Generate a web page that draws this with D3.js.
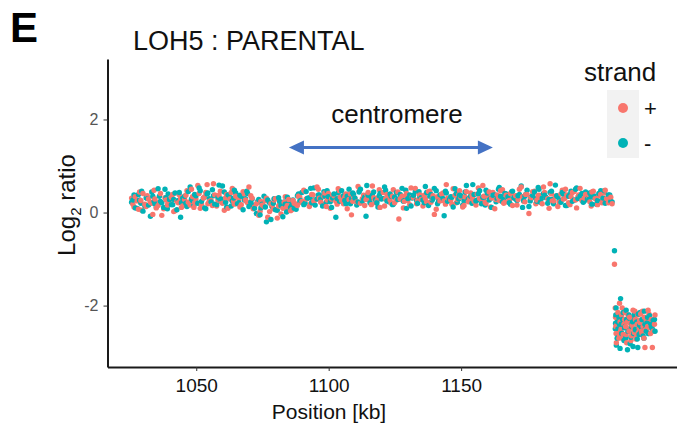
<!DOCTYPE html>
<html>
<head>
<meta charset="utf-8">
<script src="https://cdn.jsdelivr.net/npm/d3@7"></script>
<style>
  body { margin: 0; background: #fff; }
  text { font-family: "Liberation Sans", Arial, sans-serif; }
</style>
</head>
<body>
<script>
// probe positions (kb), main band, first probe set
var probePos = [
  1025.6, 1026.5, 1027.7, 1028.6, 1029.4, 1030.6, 1031.5, 1032.7, 1033.6, 1034.4,
  1035.6, 1036.5, 1037.7, 1038.6, 1039.4, 1040.6, 1041.5, 1042.7, 1043.6, 1044.4,
  1045.6, 1046.5, 1047.7, 1048.6, 1049.4, 1050.6, 1051.5, 1052.7, 1053.6, 1054.4,
  1055.6, 1056.5, 1057.7, 1058.6, 1059.4, 1060.6, 1061.5, 1062.7, 1063.6, 1064.4,
  1065.6, 1066.5, 1067.7, 1068.6, 1069.4, 1070.6, 1071.5, 1072.7, 1073.6, 1074.4,
  1075.6, 1076.5, 1077.7, 1078.6, 1079.4, 1080.6, 1081.5, 1082.7, 1083.6, 1084.4,
  1085.6, 1086.5, 1087.7, 1088.6, 1089.4, 1090.6, 1091.5, 1092.7, 1093.6, 1094.4,
  1095.6, 1096.5, 1097.7, 1098.6, 1099.4, 1100.6, 1101.5, 1102.7, 1103.6, 1104.4,
  1105.6, 1106.5, 1107.7, 1108.6, 1109.4, 1110.6, 1111.5, 1112.7, 1113.6, 1114.4,
  1115.6, 1116.5, 1117.7, 1118.6, 1119.4, 1120.6, 1121.5, 1122.7, 1123.6, 1124.4,
  1125.6, 1126.5, 1127.7, 1128.6, 1129.4, 1130.6, 1131.5, 1132.7, 1133.6, 1134.4,
  1135.6, 1136.5, 1137.7, 1138.6, 1139.4, 1140.6, 1141.5, 1142.7, 1143.6, 1144.4,
  1145.6, 1146.5, 1147.7, 1148.6, 1149.4, 1150.6, 1151.5, 1152.7, 1153.6, 1154.4,
  1155.6, 1156.5, 1157.7, 1158.6, 1159.4, 1160.6, 1161.5, 1162.7, 1163.6, 1164.4,
  1165.6, 1166.5, 1167.7, 1168.6, 1169.4, 1170.6, 1171.5, 1172.7, 1173.6, 1174.4,
  1175.6, 1176.5, 1177.7, 1178.6, 1179.4, 1180.6, 1181.5, 1182.7, 1183.6, 1184.4,
  1185.6, 1186.5, 1187.7, 1188.6, 1189.4, 1190.6, 1191.5, 1192.7, 1193.6, 1194.4,
  1195.6, 1196.5, 1197.7, 1198.6, 1199.4, 1200.6, 1201.5, 1202.7, 1203.6, 1204.4,
  1205.6, 1206.5
];
var plusLog2 = [
  0.31, 0.12, 0.25, 0.44, 0.05, 0.18, 0.36, 0.22, -0.04, 0.29,
  0.15, 0.41, 0.08, 0.27, 0.19, 0.33, 0.02, 0.24, 0.38, 0.11,
  0.28, 0.47, 0.16, 0.34, 0.21, 0.58, 0.09, 0.31, 0.43, 0.19,
  0.26, 0.62, 0.14, 0.37, 0.23, 0.05, 0.39, 0.29, 0.52, 0.18,
  0.33, 0.12, 0.45, 0.27, 0.21, 0.36,
  0.08, 0.19, -0.06, 0.24, 0.13, 0.31, 0.02, 0.17, 0.27, -0.12,
  0.21, 0.09, 0.34, 0.15, 0.04, 0.26, 0.18,
  0.35, 0.22, 0.48, 0.29, 0.13, 0.39, 0.25, 0.55, 0.31, 0.18,
  0.42, 0.27, 0.09, 0.36, 0.24, 0.51, 0.33, 0.19, 0.4, 0.28,
  -0.05, 0.34, 0.23, 0.46, 0.3, 0.15, 0.38, 0.26, 0.57, 0.21,
  0.32, 0.11, 0.43, 0.29, 0.36, 0.2, 0.49, 0.27, -0.14, 0.35,
  0.24, 0.41, 0.17, 0.33, 0.52, 0.26, 0.38, 0.14, 0.3, 0.45,
  0.22, 0.36, 0.07, 0.29, 0.4, 0.25, 0.6, 0.31, 0.18, 0.37,
  0.28, 0.47, 0.12, 0.34, 0.23, 0.42, 0.3, 0.16, 0.53, 0.27,
  0.35, 0.2, 0.44, 0.31, 0.08, 0.38, 0.26, 0.49, 0.22, 0.33,
  0.41, 0.15, 0.36, 0.28, 0.55, 0.24, 0.39, -0.02, 0.32, 0.46,
  0.27, 0.37, 0.19, 0.43, 0.3, 0.62, 0.25, 0.35, 0.13, 0.4,
  0.29, 0.5, 0.21, 0.34, 0.45, 0.1, 0.38, 0.26, 0.31,
  0.36, 0.23, 0.44, 0.3, 0.17, 0.39, 0.27, 0.48, 0.21, 0.33
];
var minusLog2 = [
  0.22, 0.38, 0.09, 0.27, 0.46, 0.14, 0.3, -0.08, 0.35, 0.19,
  0.51, 0.24, 0.11, 0.32, 0.4, 0.17, 0.28, 0.06, 0.43, 0.21,
  0.35, 0.13, 0.55, 0.26, 0.39, 0.2, 0.47, 0.31, 0.08, 0.42,
  0.23, 0.36, 0.17, 0.59, 0.29, 0.44, 0.12, 0.33, 0.25, 0.48,
  0.19, 0.37, 0.06, 0.3, 0.41, 0.22,
  0.16, -0.02, 0.28, 0.1, 0.35, -0.2, 0.21, 0.13, 0.3, 0.05,
  0.24, -0.09, 0.18, 0.33, 0.11, 0.27, 0.07,
  0.4, 0.26, 0.17, 0.45, 0.32, 0.21, 0.53, 0.29, 0.38, 0.14,
  0.35, 0.47, 0.23, 0.31, -0.1, 0.42, 0.27, 0.36, 0.19, 0.5,
  0.3, 0.39, 0.16, 0.44, 0.25, 0.33, 0.58, 0.21, 0.37, 0.28,
  0.12, 0.41, 0.3, 0.48, 0.23, 0.35, 0.18, 0.43, 0.29, 0.52,
  0.26, 0.09, 0.38, 0.31, 0.45, 0.2, 0.34, 0.27, 0.56, 0.15,
  0.39, 0.3, 0.47, 0.24, 0.36, -0.07, 0.42, 0.28, 0.33, 0.51,
  0.22, 0.37, 0.16, 0.44, 0.29, 0.35, 0.6, 0.25, 0.4, 0.19,
  0.32, 0.48, 0.27, 0.11, 0.38, 0.3, 0.54, 0.23, 0.41, 0.34,
  0.18, 0.46, 0.29, 0.36, 0.57, 0.26, 0.39, 0.13, 0.33, 0.44,
  0.24, 0.5, 0.31, 0.37, 0.2, 0.43, 0.28, 0.59, 0.34, 0.22,
  0.4, 0.15, 0.35, 0.46, 0.27, 0.53, 0.32, 0.41, 0.25,
  0.29, 0.42, 0.18, 0.35, 0.26, 0.47, 0.31, 0.2, 0.38, 0.24
];

// second probe set, offset tiling
var probePos2 = [
  1026.1, 1027.0, 1028.2, 1029.1, 1029.9, 1031.1, 1032.0, 1033.2, 1034.1, 1034.9,
  1036.1, 1037.0, 1038.2, 1039.1, 1039.9, 1041.1, 1042.0, 1043.2, 1044.1, 1044.9,
  1046.1, 1047.0, 1048.2, 1049.1, 1049.9, 1051.1, 1052.0, 1053.2, 1054.1, 1054.9,
  1056.1, 1057.0, 1058.2, 1059.1, 1059.9, 1061.1, 1062.0, 1063.2, 1064.1, 1064.9,
  1066.1, 1067.0, 1068.2, 1069.1, 1069.9, 1071.1, 1072.0, 1073.2, 1074.1, 1074.9,
  1076.1, 1077.0, 1078.2, 1079.1, 1079.9, 1081.1, 1082.0, 1083.2, 1084.1, 1084.9,
  1086.1, 1087.0, 1088.2, 1089.1, 1089.9, 1091.1, 1092.0, 1093.2, 1094.1, 1094.9,
  1096.1, 1097.0, 1098.2, 1099.1, 1099.9, 1101.1, 1102.0, 1103.2, 1104.1, 1104.9,
  1106.1, 1107.0, 1108.2, 1109.1, 1109.9, 1111.1, 1112.0, 1113.2, 1114.1, 1114.9,
  1116.1, 1117.0, 1118.2, 1119.1, 1119.9, 1121.1, 1122.0, 1123.2, 1124.1, 1124.9,
  1126.1, 1127.0, 1128.2, 1129.1, 1129.9, 1131.1, 1132.0, 1133.2, 1134.1, 1134.9,
  1136.1, 1137.0, 1138.2, 1139.1, 1139.9, 1141.1, 1142.0, 1143.2, 1144.1, 1144.9,
  1146.1, 1147.0, 1148.2, 1149.1, 1149.9, 1151.1, 1152.0, 1153.2, 1154.1, 1154.9,
  1156.1, 1157.0, 1158.2, 1159.1, 1159.9, 1161.1, 1162.0, 1163.2, 1164.1, 1164.9,
  1166.1, 1167.0, 1168.2, 1169.1, 1169.9, 1171.1, 1172.0, 1173.2, 1174.1, 1174.9,
  1176.1, 1177.0, 1178.2, 1179.1, 1179.9, 1181.1, 1182.0, 1183.2, 1184.1, 1184.9,
  1186.1, 1187.0, 1188.2, 1189.1, 1189.9, 1191.1, 1192.0, 1193.2, 1194.1, 1194.9,
  1196.1, 1197.0, 1198.2, 1199.1, 1199.9, 1201.1, 1202.0, 1203.2, 1204.1, 1204.9,
  1206.1, 1207.0
];
var plusLog2b = [
  0.18, 0.34, 0.07, 0.26, 0.41, 0.13, 0.29, 0.2, 0.48, 0.1,
  0.23, -0.06, 0.32, 0.16, 0.27, 0.39, 0.04, 0.21, 0.3, 0.14,
  0.37, 0.22, 0.5, 0.11, 0.29, 0.41, 0.18, 0.34, 0.6, 0.24,
  0.15, 0.38, 0.27, 0.46, 0.2, 0.32, 0.09, 0.43, 0.25, 0.35,
  0.28, 0.17, 0.4, 0.23, 0.55, 0.31, 0.12, 0.22, 0.03, 0.16,
  0.25, -0.1, 0.19, 0.08, 0.3, 0.14, -0.03, 0.22, 0.11, 0.28,
  0.06, 0.2, 0.15, 0.33, 0.24, 0.45, 0.3, 0.19, 0.38, 0.27,
  0.5, 0.22, 0.35, 0.13, 0.41, 0.29, 0.36, 0.18, 0.47, 0.26,
  0.33, 0.08, 0.4, 0.24, 0.31, 0.56, 0.2, 0.37, 0.28, 0.43,
  0.17, 0.32, 0.25, 0.49, 0.3, 0.14, 0.39, 0.27, 0.35, 0.21,
  0.44, 0.29, 0.1, 0.36, 0.26, 0.53, 0.32, 0.19, 0.4, 0.28,
  0.37, 0.23, 0.46, 0.3, -0.04, 0.34, 0.25, 0.42, 0.18, 0.31,
  0.27, 0.51, 0.21, 0.38, 0.33, 0.15, 0.45, 0.29, 0.36, 0.24,
  0.4, 0.3, 0.58, 0.22, 0.35, 0.12, 0.43, 0.28, 0.33, 0.47,
  0.2, 0.37, 0.26, 0.41, 0.31, 0.16, 0.5, 0.34, 0.23, 0.39,
  0.29, 0.45, 0.19, 0.36, 0.27, 0.55, 0.32, 0.09, 0.4, 0.25,
  0.35, 0.22, 0.48, 0.3, 0.38, 0.17, 0.43, 0.27, 0.34, 0.52,
  0.24, 0.39, 0.31, 0.14, 0.46, 0.28, 0.36, 0.21, 0.42, 0.3,
  0.33, 0.19
];
var minusLog2b = [
  0.27, 0.1, 0.39, 0.2, 0.03, 0.32, 0.16, 0.44, 0.24, 0.12,
  0.35, 0.21, 0.5, 0.08, 0.28, 0.17, 0.42, 0.26, -0.1, 0.31,
  0.2, 0.45, 0.29, 0.15, 0.36, 0.53, 0.24, 0.1, 0.4, 0.3,
  0.49, 0.18, 0.33, 0.26, 0.57, 0.22, 0.38, 0.14, 0.31, 0.42,
  0.21, 0.35, 0.27, 0.46, 0.13, 0.29, 0.09, 0.24, -0.05, 0.18,
  0.12, 0.27, -0.15, 0.2, 0.06, 0.32, 0.15, 0.23, 0.01, 0.26,
  0.18, 0.09, 0.36, 0.25, 0.43, 0.2, 0.31, 0.52, 0.27, 0.16,
  0.38, 0.29, 0.45, 0.22, 0.34, 0.11, 0.4, 0.3, 0.24, 0.47,
  0.26, 0.35, 0.19, 0.42, 0.31, 0.23, 0.5, 0.28, -0.08, 0.37,
  0.32, 0.44, 0.21, 0.36, 0.29, 0.55, 0.25, 0.4, 0.17, 0.33,
  0.28, 0.39, 0.24, 0.48, 0.3, 0.14, 0.37, 0.26, 0.45, 0.32,
  0.21, 0.43, 0.35, 0.27, 0.52, 0.19, 0.38, 0.3, 0.46, 0.24,
  0.34, 0.12, 0.41, 0.29, 0.36, 0.25, 0.58, 0.31, 0.2, 0.39,
  0.27, 0.47, 0.33, 0.16, 0.42, 0.3, 0.37, 0.23, 0.5, 0.35,
  0.29, 0.4, 0.21, 0.45, 0.32, 0.26, 0.39, 0.11, 0.35, 0.48,
  0.25, 0.37, 0.3, 0.54, 0.22, 0.41, 0.33, 0.28, 0.46, 0.19,
  0.36, 0.27, 0.43, 0.31, 0.15, 0.39, 0.24, 0.5, 0.3, 0.35,
  0.22, 0.44, 0.28, 0.37, 0.33, 0.18, 0.41, 0.26, 0.47, 0.29,
  0.38, 0.23
];

// deleted region at the right end
var delPos = [
  1207.9, 1208.2, 1208.4, 1208.6, 1209.0, 1209.4, 1209.8, 1210.2, 1210.6, 1211.0,
  1211.5, 1211.9, 1212.3, 1212.8, 1213.2, 1213.6, 1214.1, 1214.5, 1214.9, 1215.4,
  1215.8, 1216.3, 1216.7, 1217.2, 1217.6, 1218.1, 1218.5, 1219.0, 1219.4, 1219.9,
  1220.4, 1220.9, 1221.5, 1222.2, 1223.0
];
var delPlus = [
  -1.11, -2.05, -2.45, -2.8, -2.3, -2.6, -1.95, -2.55, -2.2, -2.7,
  -2.4, -2.15, -2.62, -2.35, -2.5, -2.25, -2.75, -2.42, -2.1, -2.58,
  -2.3, -2.66, -2.2, -2.48, -2.37, -2.55, -2.12, -2.7, -2.9, -2.33,
  -2.45, -2.18, -2.6, -2.9, -2.4
];
var delMinus = [
  -0.82, -2.5, -2.2, -2.85, -2.35, -2.65, -2.4, -1.85, -2.6, -2.3,
  -2.75, -2.45, -2.1, -2.95, -2.55, -2.28, -2.68, -2.4, -2.88, -2.2,
  -2.52, -2.35, -2.9, -2.62, -2.15, -2.47, -2.3, -2.7, -2.4, -2.55,
  -2.25, -2.6, -2.38, -2.5, -2.3
];
var delPos2 = [
  1208.3, 1208.5, 1208.9, 1209.2, 1209.6, 1210.0, 1210.4, 1210.8, 1211.2, 1211.7,
  1212.1, 1212.5, 1213.0, 1213.4, 1213.8, 1214.3, 1214.7, 1215.1, 1215.6, 1216.0,
  1216.5, 1216.9, 1217.4, 1217.8, 1218.3, 1218.7, 1219.2, 1219.6, 1220.1, 1220.6,
  1221.2, 1221.8, 1222.5, 1223.2
];
var delPlus2 = [
  -2.25, -2.6, -2.4, -2.15, -2.7, -2.35, -2.5, -2.05, -2.62, -2.3,
  -2.45, -2.8, -2.2, -2.55, -2.38, -2.65, -2.28, -2.5, -2.12, -2.72,
  -2.4, -2.58, -2.32, -2.18, -2.6, -2.45, -2.25, -2.52, -2.35, -2.1,
  -2.48, -2.3, -2.55, -2.2
];
var delMinus2 = [
  -2.38, -2.05, -2.7, -2.5, -2.25, -2.92, -2.4, -2.6, -2.15, -2.48,
  -2.7, -2.3, -2.55, -2.2, -2.82, -2.45, -2.35, -2.6, -2.28, -2.5,
  -2.72, -2.18, -2.42, -2.58, -2.3, -2.65, -2.12, -2.5, -2.38, -2.6,
  -2.22, -2.45, -2.32, -2.55
];

// centromere span (kb) and tick labels
var centromere = [1085, 1162];
var xTicks = [1050, 1100, 1150];
var yTicks = [-2, 0, 2];
var strands = ["+", "-"];

var W = 677, H = 427;
var colors = { "+": "#F8766D", "-": "#00B2B6" };

var x = d3.scaleLinear().domain([1016.5, 1231.5]).range([107.5, 677]);
var y = d3.scaleLinear().domain([-3.32, 3.30]).range([367, 59]);

var svg = d3.select("body").append("svg")
    .attr("width", W)
    .attr("height", H)
    .style("display", "block");

svg.append("rect").attr("width", W).attr("height", H).attr("fill", "#fff");

// build point table, interleaving strands
var points = [];
function addPoints(pos, plus, minus) {
    var n = Math.min(pos.length, plus.length, minus.length);
    for (var i = 0; i < n; i++) {
        if (i % 2 === 0) {
            points.push({ pos: pos[i], v: plus[i], s: "+" });
            points.push({ pos: pos[i], v: minus[i], s: "-" });
        } else {
            points.push({ pos: pos[i], v: minus[i], s: "-" });
            points.push({ pos: pos[i], v: plus[i], s: "+" });
        }
    }
}
addPoints(probePos, plusLog2, minusLog2);
addPoints(probePos2, plusLog2b, minusLog2b);
addPoints(delPos, delPlus, delMinus);
addPoints(delPos2, delPlus2, delMinus2);
points.sort(function(a, b) { return a.pos - b.pos; });

svg.append("g").selectAll("circle")
    .data(points)
    .enter().append("circle")
    .attr("cx", function(d) { return x(d.pos); })
    .attr("cy", function(d) { return y(d.v); })
    .attr("r", 2.7)
    .attr("fill", function(d) { return colors[d.s]; });

// axes
var xAxis = svg.append("g")
    .attr("transform", "translate(0," + y.range()[0] + ")")
    .call(d3.axisBottom(x).tickValues(xTicks).tickSize(4).tickSizeOuter(0).tickPadding(8)
        .tickFormat(function(d) { return String(d); }));
var yAxis = svg.append("g")
    .attr("transform", "translate(" + x.range()[0] + ",0)")
    .call(d3.axisLeft(y).tickValues(yTicks).tickSize(4).tickSizeOuter(0).tickPadding(5)
        .tickFormat(function(d) { return String(d); }));

[xAxis, yAxis].forEach(function(a) {
    a.select(".domain").attr("stroke", "#1a1a1a").attr("stroke-width", 2);
    a.selectAll(".tick line").attr("stroke", "#333");
});
xAxis.selectAll(".tick text")
    .attr("fill", "#111")
    .style("font-size", "19px")
    .style("font-family", "Liberation Sans, Arial, sans-serif");
yAxis.selectAll(".tick text")
    .attr("fill", "#555")
    .style("font-size", "16px")
    .style("font-family", "Liberation Sans, Arial, sans-serif");

// axis titles
svg.append("text")
    .attr("x", 329)
    .attr("y", 419)
    .attr("text-anchor", "middle")
    .style("font-size", "21px")
    .attr("fill", "#111")
    .text("Position [kb]");

var yl = svg.append("text")
    .attr("transform", "translate(75,205) rotate(-90)")
    .attr("text-anchor", "middle")
    .style("font-size", "24px")
    .attr("fill", "#111");
yl.append("tspan").text("Log");
yl.append("tspan").attr("dy", 6).style("font-size", "15px").text("2");
yl.append("tspan").attr("dy", -6).text(" ratio");

// panel letter and title
svg.append("text")
    .attr("x", 10)
    .attr("y", 42)
    .style("font-size", "42px")
    .style("font-weight", "bold")
    .attr("fill", "#000")
    .text("E");

svg.append("text")
    .attr("x", 133)
    .attr("y", 50)
    .style("font-size", "27px")
    .attr("fill", "#111")
    .text("LOH5 : PARENTAL");

// centromere arrow
var arrowColor = "#4472C4";
var ay = y(1.4);
svg.append("text")
    .attr("x", (x(centromere[0]) + x(centromere[1])) / 2 + 6)
    .attr("y", 123)
    .attr("text-anchor", "middle")
    .style("font-size", "26px")
    .attr("fill", "#111")
    .text("centromere");
svg.append("line")
    .attr("x1", x(centromere[0]) + 10)
    .attr("x2", x(centromere[1]) - 10)
    .attr("y1", ay)
    .attr("y2", ay)
    .attr("stroke", arrowColor)
    .attr("stroke-width", 3);
svg.append("path")
    .attr("d", "M" + x(centromere[0]) + "," + ay + "l15,-7l0,14z")
    .attr("fill", arrowColor);
svg.append("path")
    .attr("d", "M" + x(centromere[1]) + "," + ay + "l-15,-7l0,14z")
    .attr("fill", arrowColor);

// legend
var lg = svg.append("g");
lg.append("text")
    .attr("x", 584)
    .attr("y", 81)
    .style("font-size", "26px")
    .attr("fill", "#111")
    .text("strand");
lg.append("rect")
    .attr("x", 607)
    .attr("y", 90)
    .attr("width", 32)
    .attr("height", 68)
    .attr("fill", "#F2F2F2");
strands.forEach(function(s, i) {
    var cy = 108 + i * 35;
    lg.append("circle")
        .attr("cx", 623)
        .attr("cy", cy)
        .attr("r", 5)
        .attr("fill", colors[s]);
    lg.append("text")
        .attr("x", 644)
        .attr("y", cy)
        .attr("dy", "0.35em")
        .style("font-size", "22px")
        .attr("fill", "#111")
        .text(s);
});
</script>
</body>
</html>
